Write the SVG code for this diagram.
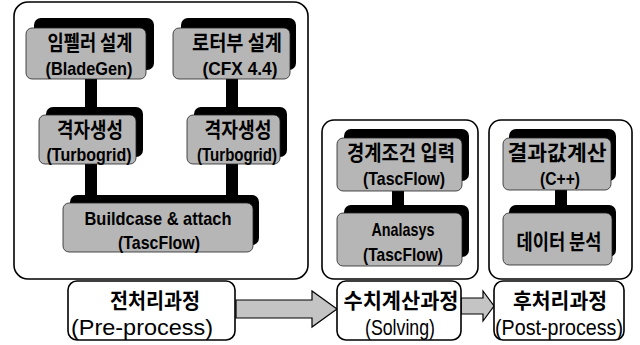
<svg xmlns="http://www.w3.org/2000/svg" width="640" height="345" viewBox="0 0 640 345">
<style>
.frame{fill:#fff;stroke:#000;stroke-width:1.6}
.shadow{fill:#000}
.box{fill:#b6b6b6;stroke:#222;stroke-width:0.8}
.conn{stroke:#000;stroke-width:12;fill:none}
.nt{font-family:"Liberation Sans","Noto Sans CJK KR",sans-serif;font-weight:bold;font-size:19px;fill:#000;text-anchor:middle}
.kt{font-family:"Noto Sans CJK KR",sans-serif;font-weight:bold;font-size:21px;fill:#000;text-anchor:middle}
.lt{font-family:"Noto Sans CJK KR",sans-serif;font-weight:bold;font-size:21px;fill:#000;text-anchor:middle}
.ll{font-family:"Liberation Sans",sans-serif;font-size:22px;fill:#000;text-anchor:middle}
.arrow{fill:#c4c4c4;stroke:#000;stroke-width:1.2}
</style>
<rect width="640" height="345" fill="#fff"/>
<g id="frames">
<rect class="frame" x="14" y="2" width="294" height="277" rx="14"/>
<rect class="frame" x="322" y="120" width="156" height="159" rx="12"/>
<rect class="frame" x="489" y="120" width="143" height="159" rx="12"/>
</g>
<g id="connectors">
<line class="conn" x1="91" y1="75" x2="91" y2="118"/>
<line class="conn" x1="232" y1="75" x2="232" y2="118" stroke="#333"/>
<line class="conn" x1="91" y1="160" x2="91" y2="205"/>
<line class="conn" x1="232" y1="160" x2="232" y2="205"/>
<line class="conn" x1="398" y1="188" x2="398" y2="215"/>
<line class="conn" x1="561" y1="187" x2="561" y2="215"/>
</g>
<g id="n1">
<rect class="shadow" x="34" y="18" width="120" height="52" rx="7"/>
<rect class="box" x="26" y="28" width="120" height="51" rx="6"/>
<text class="kt" x="90" y="50" textLength="85" lengthAdjust="spacingAndGlyphs">임펠러 설계</text>
<text class="nt" x="89" y="75" textLength="87" lengthAdjust="spacingAndGlyphs">(BladeGen)</text>
</g>
<g id="n2">
<rect class="shadow" x="181" y="18" width="115" height="52" rx="7"/>
<rect class="box" x="173" y="28" width="117" height="51" rx="6"/>
<text class="kt" x="237" y="50" textLength="90" lengthAdjust="spacingAndGlyphs">로터부 설계</text>
<text class="nt" x="240" y="75" textLength="75" lengthAdjust="spacingAndGlyphs">(CFX 4.4)</text>
</g>
<g id="n3">
<rect class="shadow" x="46" y="107" width="97" height="50" rx="7"/>
<rect class="box" x="39" y="115" width="97" height="49" rx="6"/>
<text class="kt" x="90" y="137" textLength="66" lengthAdjust="spacingAndGlyphs">격자생성</text>
<text class="nt" x="89" y="161" textLength="85" lengthAdjust="spacingAndGlyphs">(Turbogrid)</text>
</g>
<g id="n4">
<rect class="shadow" x="194" y="107" width="93" height="50" rx="7"/>
<rect class="box" x="187" y="115" width="93" height="49" rx="6"/>
<text class="kt" x="238" y="137" textLength="67" lengthAdjust="spacingAndGlyphs">격자생성</text>
<text class="nt" x="237" y="161" textLength="80" lengthAdjust="spacingAndGlyphs">(Turbogrid)</text>
</g>
<g id="n5">
<rect class="shadow" x="70" y="195" width="189" height="50" rx="7"/>
<rect class="box" x="63" y="203" width="190" height="49" rx="6"/>
<text class="nt" x="158" y="225" textLength="147" lengthAdjust="spacingAndGlyphs">Buildcase &amp; attach</text>
<text class="nt" x="159" y="249" textLength="82" lengthAdjust="spacingAndGlyphs">(TascFlow)</text>
</g>
<g id="n6">
<rect class="shadow" x="344" y="129" width="125" height="52" rx="7"/>
<rect class="box" x="337" y="138" width="125" height="53" rx="6"/>
<text class="kt" x="401" y="160" textLength="108" lengthAdjust="spacingAndGlyphs">경계조건 입력</text>
<text class="nt" x="404" y="185" textLength="82" lengthAdjust="spacingAndGlyphs">(TascFlow)</text>
</g>
<g id="n7">
<rect class="shadow" x="344" y="205" width="125" height="52" rx="7"/>
<rect class="box" x="337" y="213" width="125" height="53" rx="6"/>
<text class="nt" x="403" y="236" textLength="63" lengthAdjust="spacingAndGlyphs">Analasys</text>
<text class="nt" x="403" y="261" textLength="80" lengthAdjust="spacingAndGlyphs">(TascFlow)</text>
</g>
<g id="n8">
<rect class="shadow" x="509" y="129" width="107" height="52" rx="7"/>
<rect class="box" x="503" y="138" width="108" height="52" rx="6"/>
<text class="kt" x="557" y="160" textLength="99" lengthAdjust="spacingAndGlyphs">결과값계산</text>
<text class="nt" x="560" y="185" textLength="40" lengthAdjust="spacingAndGlyphs">(C++)</text>
</g>
<g id="n9">
<rect class="shadow" x="509" y="205" width="107" height="52" rx="7"/>
<rect class="box" x="503" y="213" width="109" height="52" rx="6"/>
<text class="kt" x="559" y="249" textLength="85" lengthAdjust="spacingAndGlyphs">데이터 분석</text>
</g>
<g id="arrows">
<polygon class="arrow" points="236,300 312,300 312,291 337,309 312,327 312,318 236,318"/>
<polygon class="arrow" points="461,298 483,298 483,291 494,306 483,321 483,314 461,314"/>
</g>
<g id="l1">
<rect class="frame" x="68" y="281" width="167" height="59" rx="9"/>
<text class="lt" x="155" y="308" textLength="90" lengthAdjust="spacingAndGlyphs">전처리과정</text>
<text class="ll" x="142" y="335" textLength="142" lengthAdjust="spacingAndGlyphs">(Pre-process)</text>
</g>
<g id="l2">
<rect class="frame" x="337" y="281" width="124" height="59" rx="9"/>
<text class="lt" x="401" y="308" textLength="115" lengthAdjust="spacingAndGlyphs">수치계산과정</text>
<text class="ll" x="400" y="335" textLength="70" lengthAdjust="spacingAndGlyphs">(Solving)</text>
</g>
<g id="l3">
<rect class="frame" x="494" y="281" width="130" height="59" rx="9"/>
<text class="lt" x="560" y="308" textLength="94" lengthAdjust="spacingAndGlyphs">후처리과정</text>
<text class="ll" x="559" y="335" textLength="128" lengthAdjust="spacingAndGlyphs">(Post-process)</text>
</g>
</svg>
